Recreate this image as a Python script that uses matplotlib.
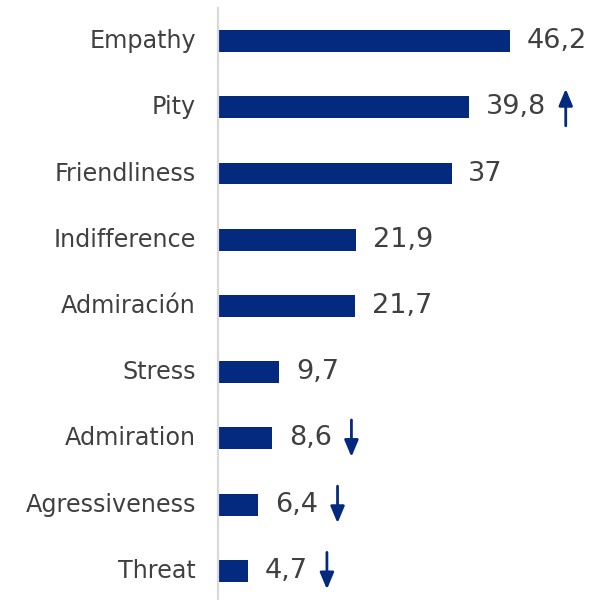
import matplotlib
matplotlib.use("Agg")
import matplotlib.pyplot as plt
from matplotlib.text import OffsetFrom

# data
labels = ["Empathy", "Pity", "Friendliness", "Indifference", "Admiración",
          "Stress", "Admiration", "Agressiveness", "Threat"]
values = [46.2, 39.8, 37, 21.9, 21.7, 9.7, 8.6, 6.4, 4.7]
value_text = ["46,2", "39,8", "37", "21,9", "21,7", "9,7", "8,6", "6,4", "4,7"]
trend = [0, 1, 0, 0, 0, 0, -1, -1, -1]   # 1 = up arrow, -1 = down arrow

navy = "#042a80"
grey_txt = "#404040"

plt.rcParams["font.family"] = ["DejaVu Sans"]

fig = plt.figure(figsize=(5.9, 6), dpi=100)
ax = fig.add_axes([218 / 590, 0, 372 / 590, 1 - 8 / 600])

ypos = list(range(len(labels)))
ax.barh(ypos, values, height=0.33, color=navy)

ax.set_ylim(8.44, -0.5)
ax.set_xlim(0, 58.9)

ax.set_yticks(ypos)
ax.set_yticklabels(labels, fontsize=17.2, color=grey_txt, va="center")
ax.tick_params(axis="y", length=0, pad=16)
ax.set_xticks([])

for side in ["top", "right", "bottom"]:
    ax.spines[side].set_visible(False)
ax.spines["left"].set_color("#d9d9d9")
ax.spines["left"].set_linewidth(1.6)

for y, v, txt, t in zip(ypos, values, value_text, trend):
    lab = ax.annotate(txt, xy=(v, y), xytext=(12, 0), textcoords="offset points",
                      ha="left", va="center", fontsize=19.5, color=grey_txt)
    if t != 0:
        ref = OffsetFrom(lab, (1.0, 0.5))
        half = 13.3 * t
        ax.annotate("", xy=(14, half), xycoords=ref,
                    xytext=(14, -half), textcoords=ref,
                    arrowprops=dict(arrowstyle="-|>,head_length=1.0,head_width=0.42",
                                    color=navy, lw=2.0, shrinkA=0, shrinkB=0))

fig.savefig("out.png", dpi=100)
